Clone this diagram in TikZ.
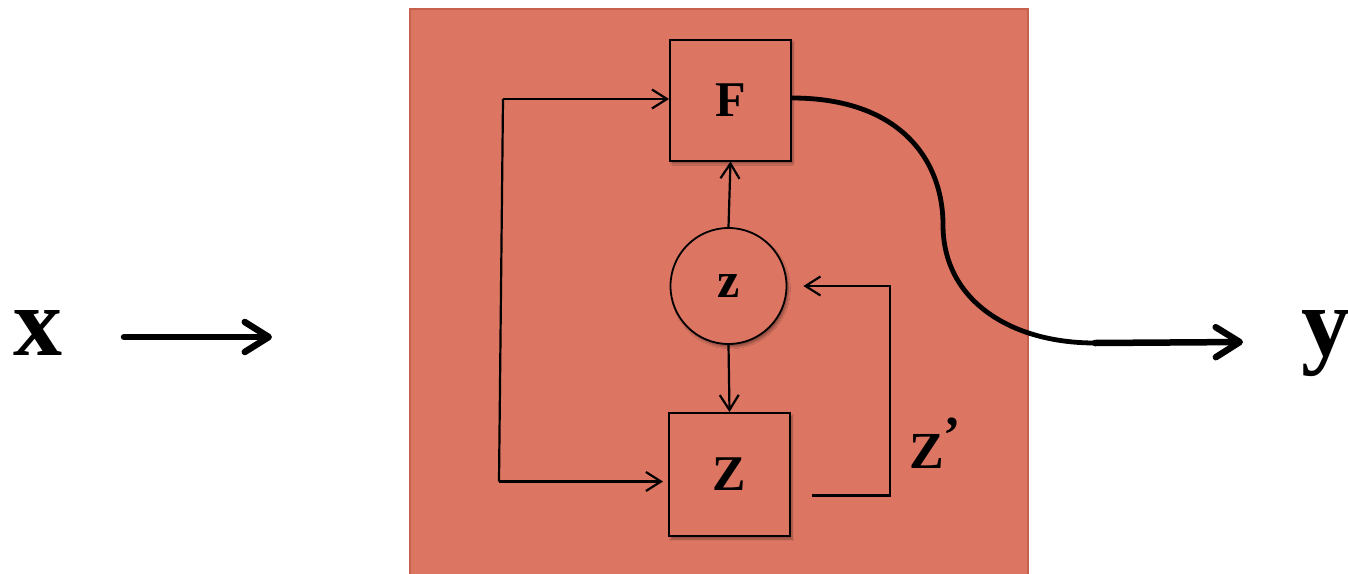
\documentclass[tikz,border=0pt]{standalone}
\usepackage{fontspec}
\setmainfont{Liberation Serif}
\usetikzlibrary{arrows.meta,shadows.blur}
\definecolor{bgred}{HTML}{DC7562}
\definecolor{bgedge}{HTML}{C8604E}
\tikzset{
  blockbox/.style={draw=black, line width=2pt, fill=bgred, minimum width=121pt, minimum height=121pt,
    inner sep=0pt, font=\fontsize{50}{50}\selectfont\bfseries,
    blur shadow={shadow xshift=2pt, shadow yshift=-3pt, shadow opacity=35, shadow blur steps=6}},
  latent/.style={circle, draw=black, line width=1.8pt, fill=bgred, minimum size=116pt, inner sep=0pt,
    font=\fontsize{50}{50}\selectfont\bfseries,
    blur shadow={shadow xshift=2pt, shadow yshift=-3pt, shadow opacity=35, shadow blur steps=6}},
  thinarrow/.style={draw=black, line width=2.2pt, -{Straight Barb[length=15pt,width=19pt]}},
  thickarrow/.style={draw=black, line width=6.5pt, line cap=round, -{Straight Barb[length=24pt,width=30pt,line cap=round,line join=round]}},
  biglabel/.style={font=\fontsize{98}{98}\selectfont\bfseries, inner sep=0pt},
}
\begin{document}
\begin{tikzpicture}[x=1pt,y=-1pt]
\useasboundingbox (0,0) rectangle (1348,573);
% background panel
\fill[bgred, draw=bgedge, line width=1.5pt] (410,9) rectangle (1028,580);

% nodes
\node[blockbox] (F) at (730.5,100) {F};
\node[latent] (z) at (728.5,286) {z};
\node[blockbox, minimum height=123pt] (Z) at (729.5,474.5) {Z};

% outer labels
\node[biglabel, anchor=base] (x) at (38,355) {x};
\node[biglabel, anchor=base] (y) at (1326,355) {y};
\node[font=\fontsize{52}{52}\selectfont\bfseries, anchor=base west, inner sep=0pt] (zp) at (909,468) {Z\raisebox{16pt}{’}};

% connectors
\draw[thinarrow] (z.north) -- (F.south);
\draw[thinarrow] (z.south) -- (Z.north);

\coordinate (lt) at (503,99);
\coordinate (lb) at (499,481.5);
\draw[line width=2.2pt] (lt) -- (lb);
\draw[thinarrow] (lt) -- (F.west |- lt);
\draw[thinarrow, shorten >=5pt] (lb) -- (Z.west |- lb);

\coordinate (zs) at (812,495.5);
\coordinate (zc) at (890,495.5);
\draw[thinarrow, shorten >=16pt] (zs) -- (zc) |- (z.east);

% output curve
\coordinate (yj) at (1095,343);
\draw[line width=4.8pt] (F.east |- 0,98) .. controls (900,98) and (943,160) .. (943,225)
   .. controls (943,300) and (1010,343) .. (yj);
\coordinate (ytip) at (1243,342);
\draw[thickarrow] (yj) -- (ytip);

% input arrow
\coordinate (xs) at (124,337);
\coordinate (xt) at (272,337);
\draw[thickarrow] (xs) -- (xt);
\end{tikzpicture}
\end{document}
